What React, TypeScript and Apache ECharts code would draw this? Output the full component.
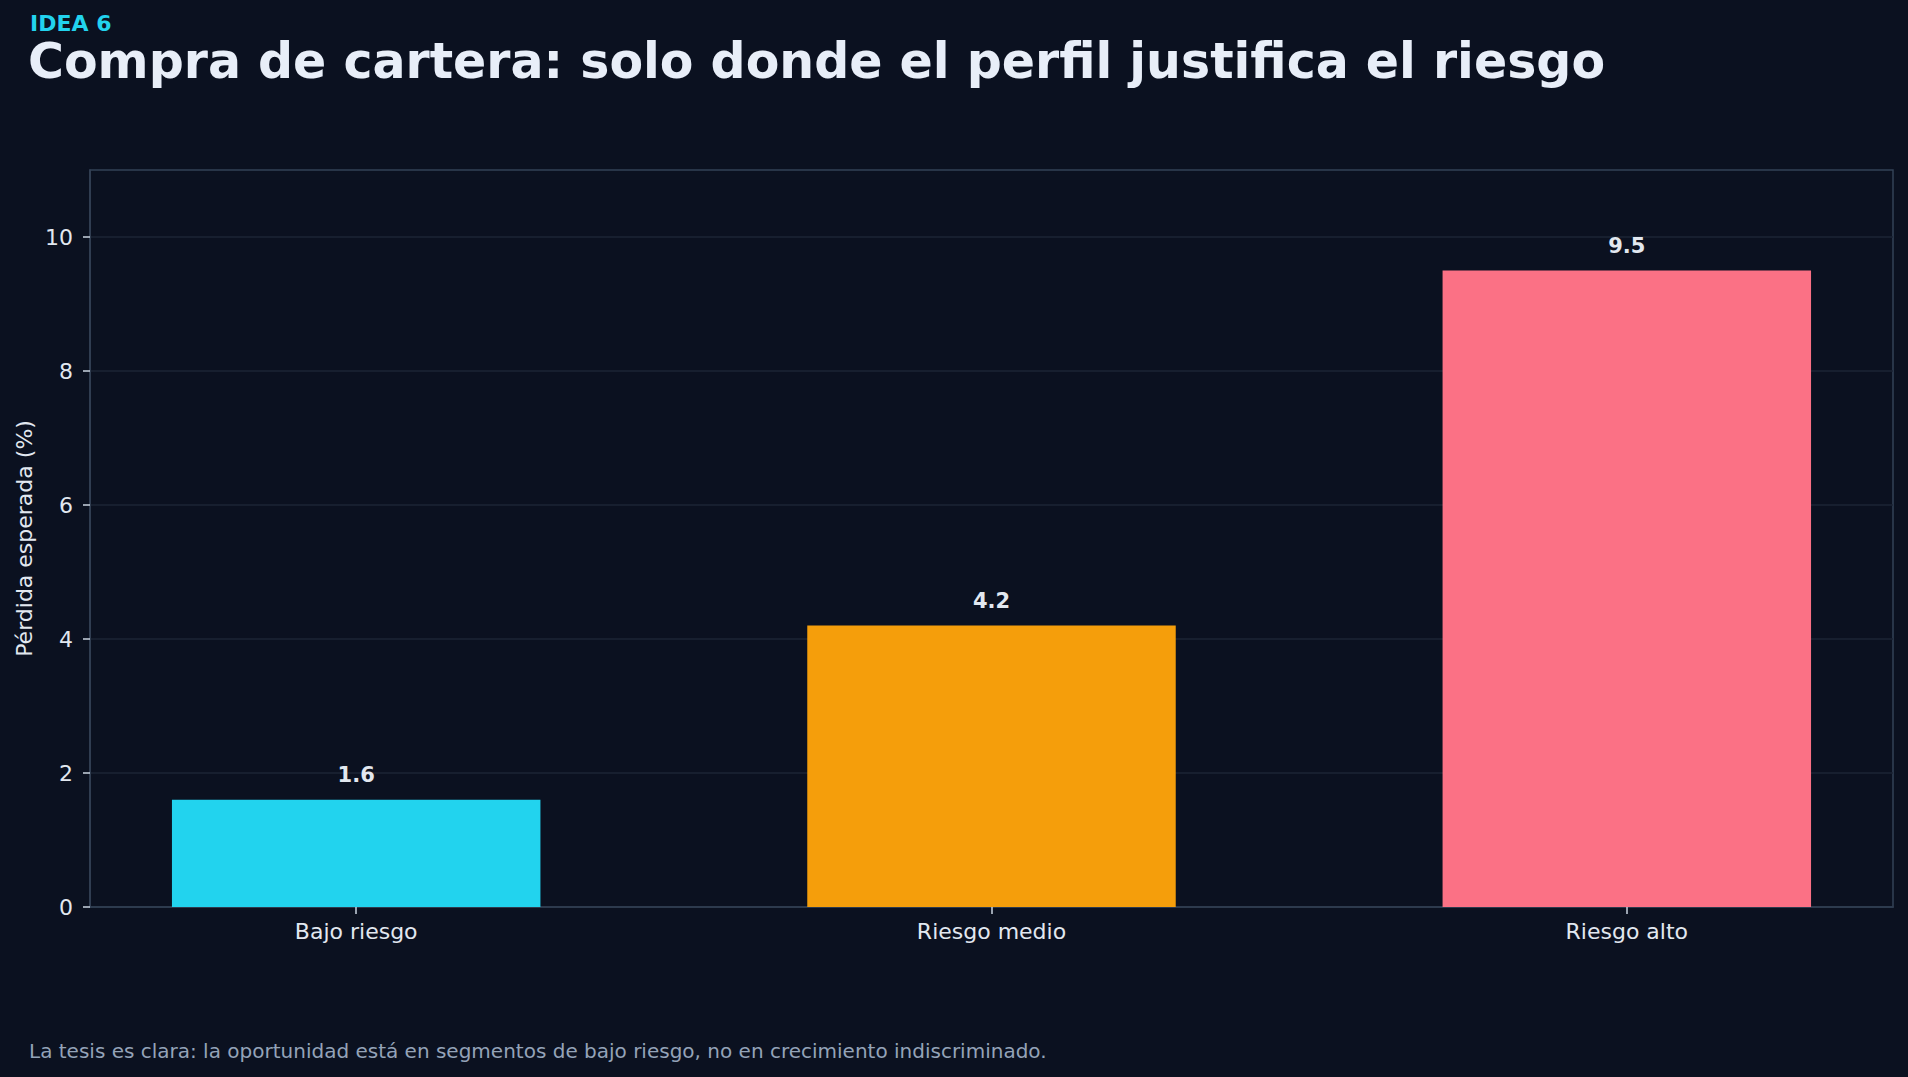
import React, { useEffect, useRef } from "react";
import * as echarts from "echarts";

// Expected loss by risk segment
const categories = ["Bajo riesgo", "Riesgo medio", "Riesgo alto"];
const lossValues = [1.6, 4.2, 9.5];
const barColors = ["#22d3ee", "#f59e0b", "#fb7185"];
const yTicks = [0, 2, 4, 6, 8, 10];

const kicker = "IDEA 6";
const headline = "Compra de cartera: solo donde el perfil justifica el riesgo";
const yAxisTitle = "Pérdida esperada (%)";
const footnote =
  "La tesis es clara: la oportunidad está en segmentos de bajo riesgo, no en crecimiento indiscriminado.";

const W = 1908;
const H = 1077;
const BG = "#0b1120";
const FONT = "DejaVu Sans";

const GRID = { left: 90, right: 15, top: 170, bottom: 170 };
const X_MIN = -0.419;
const X_MAX = 2.419;
const BAR_FRACTION = 0.58;

export default function App() {
  const ref = useRef<HTMLDivElement>(null);

  useEffect(() => {
    if (!ref.current) return;
    const chart = echarts.init(ref.current, undefined, { renderer: "svg" });
    const plotWidth = W - GRID.left - GRID.right;
    const barWidth = (BAR_FRACTION * plotWidth) / (X_MAX - X_MIN);
    const xPositions = categories.map((_, i) => i);

    chart.setOption({
      animation: false,
      backgroundColor: BG,
      textStyle: { fontFamily: FONT },
      grid: {
        ...GRID,
        show: true,
        borderColor: "#334155",
        borderWidth: 1.5,
        backgroundColor: "transparent",
      },
      xAxis: {
        type: "value",
        min: X_MIN,
        max: X_MAX,
        axisLine: { show: true, onZero: false, lineStyle: { color: "#334155", width: 1.5 } },
        axisTick: {
          show: true,
          length: 7,
          customValues: xPositions,
          lineStyle: { color: "#cbd5e1", width: 1.5 },
        },
        axisLabel: {
          customValues: xPositions,
          formatter: (v: number) => categories[Math.round(v)] ?? "",
          color: "#e2e8f0",
          fontSize: 22,
          fontFamily: FONT,
          margin: 13,
        },
        splitLine: { show: false },
      },
      yAxis: {
        type: "value",
        min: 0,
        max: 11,
        interval: 2,
        axisLine: { show: true, onZero: false, lineStyle: { color: "#334155", width: 1.5 } },
        axisTick: {
          show: true,
          length: 7,
          customValues: yTicks,
          lineStyle: { color: "#cbd5e1", width: 1.5 },
        },
        axisLabel: {
          customValues: yTicks,
          color: "#e2e8f0",
          fontSize: 22,
          fontFamily: FONT,
          margin: 17,
        },
        splitLine: { show: true, lineStyle: { color: "#1d2535", width: 1.5 } },
      },
      series: [
        {
          type: "bar",
          barWidth,
          data: lossValues.map((v, i) => ({
            value: [xPositions[i], v],
            itemStyle: { color: barColors[i] },
          })),
          label: {
            show: true,
            position: "top",
            distance: 14,
            color: "#e2e8f0",
            fontSize: 21,
            fontWeight: "bold",
            fontFamily: FONT,
            formatter: (p: any) => Number(p.value[1]).toFixed(1),
          },
        },
      ],
      graphic: [
        {
          type: "text",
          left: 30,
          top: 12,
          style: {
            text: kicker,
            fill: "#22d3ee",
            font: `bold 22px ${FONT}`,
          },
        },
        {
          type: "text",
          left: 28,
          top: 37,
          style: {
            text: headline,
            fill: "#e8eef8",
            font: `bold 49px ${FONT}`,
          },
        },
        {
          type: "text",
          x: 24,
          y: (GRID.top + (H - GRID.bottom)) / 2,
          rotation: Math.PI / 2,
          style: {
            text: yAxisTitle,
            fill: "#e2e8f0",
            font: `22px ${FONT}`,
            align: "center",
            verticalAlign: "middle",
          },
        },
        {
          type: "text",
          left: 29,
          top: 1041,
          style: {
            text: footnote,
            fill: "#94a3b8",
            font: `20px ${FONT}`,
          },
        },
      ],
    });

    return () => chart.dispose();
  }, []);

  return (
    <div
      ref={ref}
      style={{ position: "absolute", left: 0, top: 0, width: W, height: H, background: BG }}
    />
  );
}
